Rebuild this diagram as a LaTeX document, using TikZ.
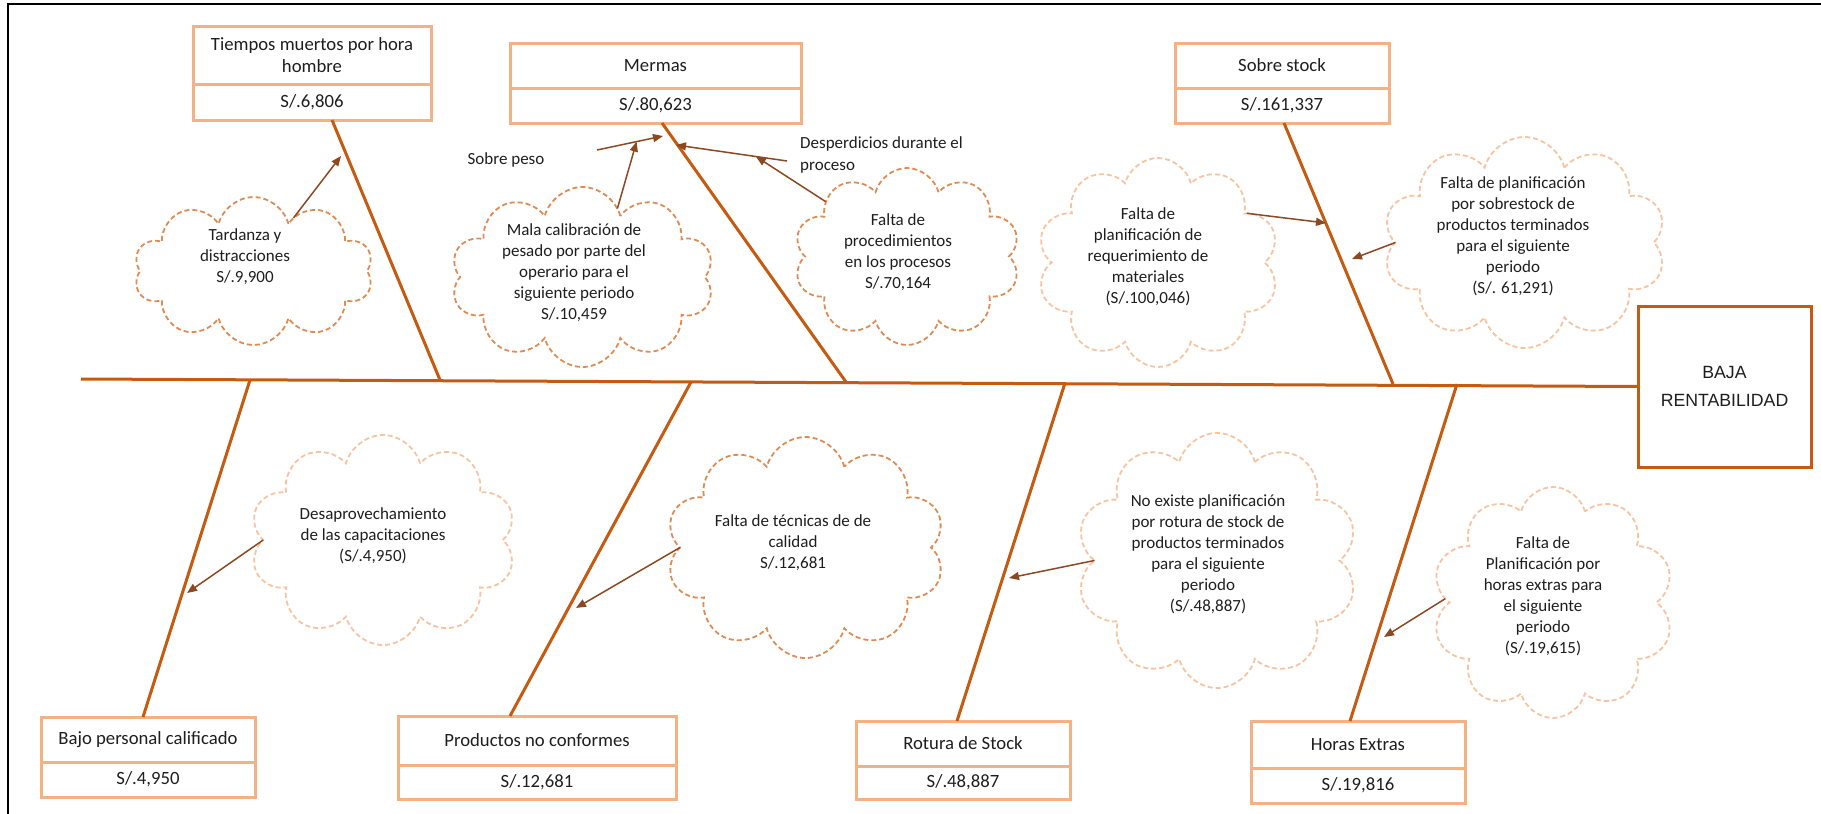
\documentclass[tikz,border=0pt]{standalone}
\usepackage{fontspec}
\setmainfont{Carlito}
\newfontfamily\arialfont{Liberation Sans}
\usetikzlibrary{shapes.symbols, arrows.meta, calc}

\definecolor{bonec}{RGB}{197,90,17}
\definecolor{boxline}{RGB}{244,177,131}
\definecolor{arrowc}{RGB}{140,72,32}
\definecolor{clouddark}{RGB}{222,140,85}
\definecolor{cloudlight}{RGB}{247,195,160}
\definecolor{txt}{RGB}{30,30,30}

\begin{document}
\begin{tikzpicture}[x=1pt,y=-1pt,
  boxpart/.style={draw=boxline, line width=3pt, anchor=north west, inner sep=0pt,
    outer sep=0pt, align=center, text=txt, font=\fontsize{18.7}{22.8}\selectfont},
  effectbox/.style={draw=bonec, line width=3pt, anchor=north west, inner sep=0pt,
    outer sep=0pt, align=center, text=txt, font=\arialfont\fontsize{17.7}{28}\selectfont},
  bone/.style={draw=bonec, line width=3pt},
  arr/.style={draw=arrowc, line width=1.5pt, -{Triangle[length=10pt,width=8pt]}},
  cloudbase/.style={cloud, cloud puffs=10, cloud ignores aspect, inner sep=0pt,
    outer sep=0pt, line width=1.8pt, dash pattern=on 5pt off 3pt},
  darkcloud/.style={cloudbase, draw=clouddark},
  lightcloud/.style={cloudbase, draw=cloudlight},
  outeranchors/.style={cloud anchors use ellipse},
  cloudtext/.style={align=center, text=txt, inner sep=0pt, font=\fontsize{17}{21}\selectfont},
  label/.style={text=txt, inner sep=0pt, font=\fontsize{17}{21.5}\selectfont},
]
\useasboundingbox (0,0) rectangle (1821,814);

% page frame
\draw[black, line width=2pt] (8,814) -- (8,4) -- (1821,4);

% effect
\node[effectbox, minimum width=173pt, minimum height=161pt] (effect) at (1638,306) {BAJA\\RENTABILIDAD};

% upper causes
\node[boxpart, minimum width=238pt, minimum height=58pt] (tiempos) at (193,26) {Tiempos muertos por hora\\hombre};
\node[boxpart, minimum width=238pt, minimum height=36pt] (tiempos-v) at (193,84) {S/.6,806};
\node[boxpart, minimum width=291pt, minimum height=45pt] (mermas) at (510,43) {Mermas};
\node[boxpart, minimum width=291pt, minimum height=35pt] (mermas-v) at (510,88) {S/.80,623};
\node[boxpart, minimum width=214pt, minimum height=45pt] (sobre) at (1175,43) {Sobre stock};
\node[boxpart, minimum width=214pt, minimum height=35pt] (sobre-v) at (1175,88) {S/.161,337};

% lower causes
\node[boxpart, minimum width=214pt, minimum height=45pt] (bajo) at (41,717) {Bajo personal calificado};
\node[boxpart, minimum width=214pt, minimum height=35pt] (bajo-v) at (41,762) {S/.4,950};
\node[boxpart, minimum width=278pt, minimum height=49pt] (prod) at (398,716) {Productos no conformes};
\node[boxpart, minimum width=278pt, minimum height=34pt] (prod-v) at (398,765) {S/.12,681};
\node[boxpart, minimum width=214pt, minimum height=45pt] (rot) at (856,721) {Rotura de Stock};
\node[boxpart, minimum width=214pt, minimum height=33pt] (rot-v) at (856,766) {S/.48,887};
\node[boxpart, minimum width=214pt, minimum height=47pt] (horas) at (1251,721) {Horas Extras};
\node[boxpart, minimum width=214pt, minimum height=35pt] (horas-v) at (1251,768) {S/.19,816};

% spine and joints
\coordinate (spineL) at (81,379);
\coordinate (j1) at (440,380);
\coordinate (j2) at (846,382);
\coordinate (j3) at (1393,384);
\coordinate (k1) at (250,380);
\coordinate (k2) at (691,382);
\coordinate (k3) at (1065,383);
\coordinate (k4) at (1457,384);
\draw[bone] (spineL) -- (effect.west);

% bones
\draw[bone] ([xshift=139pt]tiempos-v.south west) -- (j1);
\draw[bone] ([xshift=152pt]mermas-v.south west) -- (j2);
\draw[bone] ([xshift=109pt]sobre-v.south west) -- (j3);
\draw[bone] (k1) -- ([xshift=102pt]bajo.north west);
\draw[bone] (k2) -- ([xshift=112pt]prod.north west);
\draw[bone] (k3) -- ([xshift=101pt]rot.north west);
\draw[bone] (k4) -- ([xshift=99pt]horas.north west);

% clouds
\node[darkcloud, outeranchors, minimum width=239pt, minimum height=148pt] (c-tard) at (253.5,271) {};
\node[darkcloud, outeranchors, minimum width=263pt, minimum height=180pt] (c-mala) at (582.5,277) {};
\node[darkcloud, minimum width=226pt, minimum height=177pt] (c-proc) at (907,256.5) {};
\node[lightcloud, outeranchors, minimum width=242pt, minimum height=209pt] (c-req) at (1158,262.5) {};
\node[lightcloud, minimum width=283pt, minimum height=211pt] (c-sobre) at (1524.5,242.5) {};
\node[lightcloud, minimum width=266pt, minimum height=210pt] (c-desap) at (383,540) {};
\node[darkcloud, minimum width=279pt, minimum height=221pt] (c-tecn) at (805.5,547.5) {};
\node[lightcloud, minimum width=282pt, minimum height=255pt] (c-noex) at (1217,560.5) {};
\node[lightcloud, minimum width=242pt, minimum height=231pt] (c-horas) at (1553,602.5) {};

% cloud texts
\node[cloudtext] (t-tard) at (245,257) {Tardanza y\\distracciones\\S/.9,900};
\node[cloudtext] (t-mala) at (574,273) {Mala calibración de\\pesado por parte del\\operario para el\\siguiente periodo\\S/.10,459};
\node[cloudtext] (t-proc) at (898,252.5) {Falta de\\procedimientos\\en los procesos\\S/.70,164};
\node[cloudtext] (t-req) at (1148,257) {Falta de\\planificación de\\requerimiento de\\materiales\\(S/.100,046)};
\node[cloudtext] (t-sobre) at (1513,236.5) {Falta de planificación\\por sobrestock de\\productos terminados\\para el siguiente\\periodo\\(S/. 61,291)};
\node[cloudtext] (t-desap) at (373,536) {Desaprovechamiento\\de las capacitaciones\\(S/.4,950)};
\node[cloudtext] (t-tecn) at (793,543) {Falta de técnicas de de\\calidad\\S/.12,681};
\node[cloudtext] (t-noex) at (1208,554.5) {No existe planificación\\por rotura de stock de\\productos terminados\\para el siguiente\\periodo\\(S/.48,887)};
\node[cloudtext] (t-horas) at (1543,596) {Falta de\\Planificación por\\horas extras para\\el siguiente\\periodo\\(S/.19,615)};

% free labels
\node[label] (l-peso) at (506,160) {Sobre peso};
\node[label, align=left, anchor=west] (l-desp) at (800,155) {Desperdicios durante el\\proceso};

% arrow ends
\coordinate (pesoS) at (597,150);
\coordinate (pesoE) at (663,136);
\coordinate (despS) at (787,161);
\coordinate (despE) at (676,145);
\coordinate (tipTard) at (341,156);
\coordinate (tipReq) at (1326,223);
\coordinate (tipSobre) at (1352,259);
\coordinate (tipDesap) at (187,593);
\coordinate (tipTecn) at (576,608);
\coordinate (tipNoex) at (1009,578);
\coordinate (tipHoras) at (1384,637);

% arrows
\draw[arr] (c-tard.53) -- (tipTard);
\draw[arr] (pesoS) -- (pesoE);
\draw[arr] (c-mala.63) -- ($(pesoS)!0.6!(pesoE)$);
\draw[arr] (despS) -- (despE);
\draw[arr] (c-proc.146) -- ($(despS)!0.28!(despE)$);
\draw[arr] (c-req.29) -- (tipReq);
\draw[arr] (c-sobre.180) -- (tipSobre);
\draw[arr] (c-desap.180) -- (tipDesap);
\draw[arr] (c-tecn.180) -- (tipTecn);
\draw[arr] (c-noex.180) -- (tipNoex);
\draw[arr] (c-horas.178) -- (tipHoras);
\end{tikzpicture}
\end{document}
